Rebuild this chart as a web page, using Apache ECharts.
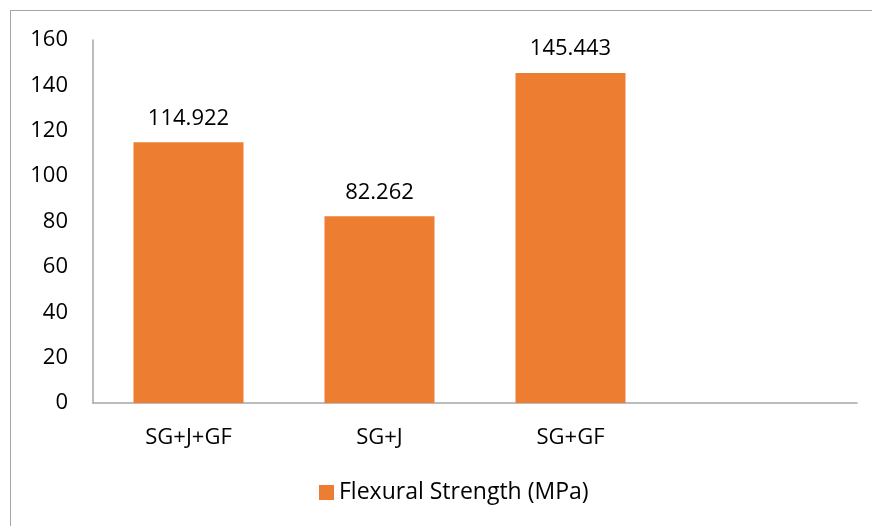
<!DOCTYPE html>
<html>
<head>
<meta charset="utf-8">
<script src="https://cdn.jsdelivr.net/npm/echarts@6/dist/echarts.min.js"></script>
<style>
  html, body { margin: 0; padding: 0; background: #fff; }
  #frame { position: absolute; left: 10px; top: 10px; width: 900px; height: 560px; border: 1px solid #a6a6a6; box-sizing: border-box; }
  #chart { position: absolute; left: 0; top: 0; width: 872px; height: 526px; }
</style>
</head>
<body>
<div id="frame"></div>
<div id="chart"></div>
<script>
const categories = ['SG+J+GF', 'SG+J', 'SG+GF', '']
const strength = [114.922, 82.262, 145.443, null]
const seriesName = 'Flexural Strength (MPa)'

const font = '"Open Sans", "Noto Sans", sans-serif'
const myChart = echarts.init(document.getElementById('chart'))
myChart.setOption({
  animation: false,
  grid: { left: 93, right: 15, top: 40, bottom: 123 },
  legend: {
    data: [seriesName],
    bottom: 17,
    left: 314,
    itemWidth: 15,
    itemHeight: 15,
    icon: 'rect',
    itemGap: 6,
    textStyle: { fontFamily: font, fontSize: 23, color: '#000' }
  },
  xAxis: {
    type: 'category',
    data: categories,
    axisLine: { lineStyle: { color: '#a6a6a6', width: 1.5 } },
    axisTick: { show: false },
    axisLabel: { color: '#000', fontFamily: font, fontSize: 22, margin: 24 }
  },
  yAxis: {
    type: 'value',
    min: 0,
    max: 160,
    interval: 20,
    splitLine: { show: false },
    axisLine: { show: true, lineStyle: { color: '#a6a6a6', width: 1.5 } },
    axisTick: { show: false },
    axisLabel: { color: '#000', fontFamily: font, fontSize: 22, margin: 25 }
  },
  series: [
    {
      name: seriesName,
      type: 'bar',
      data: strength,
      barWidth: '57.6%',
      itemStyle: { color: '#ed7d31' },
      label: {
        show: true,
        position: 'top',
        distance: 13,
        color: '#000',
        fontFamily: font,
        fontSize: 22,
        formatter: (p) => p.value.toFixed(3)
      }
    }
  ]
})
</script>
</body>
</html>
